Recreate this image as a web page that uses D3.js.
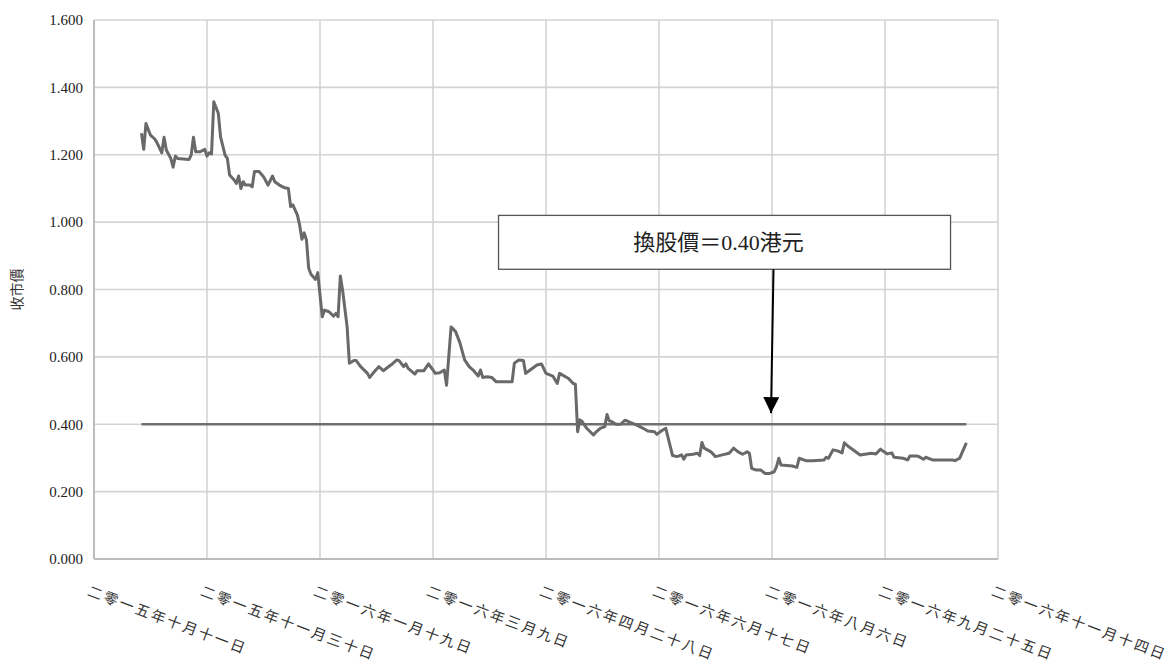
<!DOCTYPE html>
<html>
<head>
<meta charset="utf-8">
<script src="https://cdn.jsdelivr.net/npm/d3@7"></script>
<style>
  body { margin: 0; background: #fff; }
  svg { display: block; }
  .serif { font-family: "Liberation Serif", "Times New Roman", Tinos, "DejaVu Serif", serif; }
  .cjk { font-family: "Noto Sans CJK TC", "Noto Sans CJK SC", sans-serif; }
  .mixed { font-family: "Liberation Serif", "Times New Roman", Tinos, "Noto Sans CJK TC", serif; }
</style>
</head>
<body>
<svg width="1174" height="667"></svg>
<script>

// closing prices (HK$)
var dates = [
  "2015-11-01","2015-11-02","2015-11-03","2015-11-05","2015-11-07","2015-11-08","2015-11-10","2015-11-11","2015-11-12","2015-11-14",
  "2015-11-15","2015-11-16","2015-11-17","2015-11-22","2015-11-23","2015-11-24","2015-11-25","2015-11-27","2015-11-29","2015-11-30",
  "2015-12-01","2015-12-02","2015-12-03","2015-12-05","2015-12-06","2015-12-08","2015-12-09","2015-12-10","2015-12-12","2015-12-13",
  "2015-12-14","2015-12-15","2015-12-16","2015-12-17","2015-12-19","2015-12-20","2015-12-21","2015-12-23","2015-12-25","2015-12-27",
  "2015-12-29","2015-12-30","2016-01-01","2016-01-03","2016-01-05","2016-01-06","2016-01-07","2016-01-09","2016-01-10","2016-01-11",
  "2016-01-12","2016-01-13","2016-01-14","2016-01-15","2016-01-17","2016-01-18","2016-01-20","2016-01-21","2016-01-23","2016-01-25",
  "2016-01-26","2016-01-27","2016-01-28","2016-01-29","2016-01-31","2016-02-01","2016-02-03","2016-02-04","2016-02-06","2016-02-09",
  "2016-02-10","2016-02-12","2016-02-14","2016-02-16","2016-02-18","2016-02-20","2016-02-22","2016-02-23","2016-02-25","2016-02-26",
  "2016-02-27","2016-03-01","2016-03-02","2016-03-05","2016-03-07","2016-03-09","2016-03-10","2016-03-12","2016-03-14","2016-03-15",
  "2016-03-17","2016-03-19","2016-03-21","2016-03-22","2016-03-23","2016-03-25","2016-03-27","2016-03-29","2016-03-30","2016-03-31",
  "2016-04-02","2016-04-04","2016-04-06","2016-04-13","2016-04-14","2016-04-16","2016-04-18","2016-04-19","2016-04-21","2016-04-24",
  "2016-04-26","2016-04-28","2016-05-01","2016-05-03","2016-05-04","2016-05-08","2016-05-10","2016-05-11","2016-05-12","2016-05-13",
  "2016-05-14","2016-05-16","2016-05-19","2016-05-20","2016-05-22","2016-05-24","2016-05-25","2016-05-26","2016-05-27","2016-05-29",
  "2016-05-31","2016-06-02","2016-06-04","2016-06-07","2016-06-10","2016-06-12","2016-06-15","2016-06-16","2016-06-18","2016-06-20",
  "2016-06-23","2016-06-25","2016-06-27","2016-06-28","2016-06-29","2016-07-02","2016-07-04","2016-07-05","2016-07-06","2016-07-07",
  "2016-07-10","2016-07-12","2016-07-15","2016-07-18","2016-07-19","2016-07-20","2016-07-22","2016-07-24","2016-07-26","2016-07-27",
  "2016-07-28","2016-07-30","2016-08-01","2016-08-03","2016-08-05","2016-08-07","2016-08-08","2016-08-09","2016-08-10","2016-08-15",
  "2016-08-17","2016-08-18","2016-08-21","2016-08-24","2016-08-29","2016-08-30","2016-08-31","2016-09-02","2016-09-04","2016-09-06",
  "2016-09-07","2016-09-09","2016-09-14","2016-09-19","2016-09-21","2016-09-23","2016-09-24","2016-09-26","2016-09-28","2016-09-29",
  "2016-10-03","2016-10-05","2016-10-06","2016-10-09","2016-10-10","2016-10-12","2016-10-13","2016-10-16","2016-10-25","2016-10-26",
  "2016-10-28","2016-10-31"
];

var prices = [
  1.264,1.216,1.293,1.258,1.246,1.234,1.206,1.252,1.214,1.189,
  1.163,1.196,1.189,1.186,1.199,1.252,1.209,1.209,1.216,1.196,
  1.206,1.202,1.357,1.323,1.253,1.199,1.189,1.140,1.125,1.115,
  1.137,1.100,1.120,1.110,1.110,1.105,1.150,1.150,1.135,1.110,
  1.137,1.120,1.110,1.103,1.100,1.046,1.051,1.021,0.991,0.949,
  0.968,0.947,0.863,0.845,0.830,0.850,0.719,0.739,0.734,0.721,
  0.729,0.719,0.840,0.798,0.689,0.581,0.589,0.589,0.571,0.551,
  0.539,0.556,0.571,0.559,0.569,0.579,0.591,0.589,0.571,0.579,
  0.566,0.549,0.559,0.559,0.579,0.561,0.551,0.553,0.561,0.516,
  0.689,0.675,0.640,0.615,0.591,0.571,0.559,0.543,0.561,0.539,
  0.541,0.539,0.526,0.526,0.581,0.591,0.589,0.551,0.561,0.576,
  0.579,0.551,0.543,0.521,0.551,0.536,0.521,0.519,0.378,0.413,
  0.408,0.388,0.368,0.376,0.388,0.393,0.429,0.410,0.408,0.400,
  0.400,0.412,0.406,0.398,0.388,0.380,0.378,0.370,0.380,0.388,
  0.307,0.304,0.309,0.296,0.309,0.311,0.314,0.307,0.346,0.329,
  0.318,0.304,0.309,0.314,0.321,0.329,0.318,0.311,0.318,0.314,
  0.269,0.264,0.264,0.254,0.254,0.259,0.274,0.299,0.279,0.276,
  0.272,0.299,0.292,0.292,0.294,0.302,0.299,0.324,0.321,0.315,
  0.345,0.333,0.309,0.314,0.312,0.326,0.321,0.312,0.315,0.302,
  0.299,0.294,0.306,0.306,0.304,0.296,0.302,0.294,0.294,0.292,
  0.299,0.345
];

var xTickDates = ["2015-10-11","2015-11-30","2016-01-19","2016-03-09","2016-04-28",
                  "2016-06-17","2016-08-06","2016-09-25","2016-11-14"];
var xTickLabels = ["二零一五年十月十一日","二零一五年十一月三十日","二零一六年一月十九日",
                   "二零一六年三月九日","二零一六年四月二十八日","二零一六年六月十七日",
                   "二零一六年八月六日","二零一六年九月二十五日","二零一六年十一月十四日"];
var yTicks = [0, 0.2, 0.4, 0.6, 0.8, 1.0, 1.2, 1.4, 1.6];

var conversionPrice = 0.40;
var noteText = "換股價＝0.40港元";
var yTitle = "收市價";

var parse = d3.utcParse("%Y-%m-%d");

var svg = d3.select("svg");
var margin = {left: 94, right: 176, top: 20, bottom: 108};
var W = +svg.attr("width"), H = +svg.attr("height");

var x = d3.scaleUtc()
    .domain([parse(xTickDates[0]), parse(xTickDates[xTickDates.length - 1])])
    .range([margin.left, W - margin.right]);
var y = d3.scaleLinear().domain([0, 1.6]).range([H - margin.bottom, margin.top]);

// gridlines
svg.append("g")
  .selectAll("line")
  .data(yTicks)
  .enter().append("line")
    .attr("x1", x.range()[0]).attr("x2", x.range()[1])
    .attr("y1", function(d) { return y(d); })
    .attr("y2", function(d) { return y(d); })
    .attr("stroke", "#d4d4d4").attr("stroke-width", 1.6);

svg.append("g")
  .selectAll("line")
  .data(xTickDates)
  .enter().append("line")
    .attr("x1", function(d) { return x(parse(d)); })
    .attr("x2", function(d) { return x(parse(d)); })
    .attr("y1", y(1.6)).attr("y2", y(0))
    .attr("stroke", "#d4d4d4").attr("stroke-width", 1.6);

// axes lines
svg.append("line")
    .attr("x1", x.range()[0]).attr("x2", x.range()[0])
    .attr("y1", y(1.6)).attr("y2", y(0))
    .attr("stroke", "#bcbcbc").attr("stroke-width", 2);
svg.append("line")
    .attr("x1", x.range()[0]).attr("x2", x.range()[1])
    .attr("y1", y(0)).attr("y2", y(0))
    .attr("stroke", "#bcbcbc").attr("stroke-width", 2);

// y tick labels
var yAxis = svg.append("g")
    .attr("transform", "translate(" + (x.range()[0] - 8) + ",0)")
    .call(d3.axisLeft(y).tickValues(yTicks).tickSize(0).tickFormat(d3.format(".3f")))
    .attr("font-family", null).attr("font-size", null);
yAxis.select(".domain").remove();
yAxis.selectAll("text")
    .attr("class", "serif")
    .style("font-size", "15px").attr("fill", "#222");

// x tick labels, rotated
svg.append("g")
  .selectAll("text")
  .data(xTickDates)
  .enter().append("text")
    .attr("class", "cjk")
    .attr("transform", function(d) { return "translate(" + (x(parse(d)) - 3) + "," + (y(0) + 24) + ") rotate(20.5)"; })
    .attr("dy", "0.9em")
    .style("font-size", "14.5px")
    .attr("letter-spacing", 2.4)
    .attr("fill", "#333")
    .text(function(d, i) { return xTickLabels[i]; });

// y title
svg.append("text")
    .attr("class", "cjk")
    .attr("transform", "translate(" + 22 + "," + ((y(0) + y(1.6)) / 2) + ") rotate(-90)")
    .attr("text-anchor", "middle")
    .style("font-size", "14px")
    .attr("fill", "#333")
    .text(yTitle);

var first = parse(dates[0]), last = parse(dates[dates.length - 1]);

// conversion price line
svg.append("line")
    .attr("x1", x(first)).attr("x2", x(last))
    .attr("y1", y(conversionPrice)).attr("y2", y(conversionPrice))
    .attr("stroke", "#6f6f6f").attr("stroke-width", 2.6);

// price series
var line = d3.line()
    .x(function(d, i) { return x(parse(dates[i])); })
    .y(function(d) { return y(d); });

svg.append("path")
    .datum(prices)
    .attr("fill", "none")
    .attr("stroke", "#696969")
    .attr("stroke-width", 3)
    .attr("stroke-linejoin", "round")
    .attr("d", line);

// annotation box + arrow
var boxL = x(parse("2016-04-07")), boxR = x(parse("2016-10-24"));
var boxT = y(1.02), boxB = y(0.86);
svg.append("rect")
    .attr("x", boxL).attr("y", boxT)
    .attr("width", boxR - boxL).attr("height", boxB - boxT)
    .attr("fill", "#fff").attr("stroke", "#555").attr("stroke-width", 1.3);
svg.append("text")
    .attr("class", "mixed")
    .attr("x", (boxL + boxR) / 2 - 6).attr("y", (boxT + boxB) / 2 + 8)
    .attr("text-anchor", "middle")
    .style("font-size", "22px")
    .attr("fill", "#222")
    .text(noteText);

svg.append("defs").append("marker")
    .attr("id", "arrow")
    .attr("viewBox", "0 0 10 10")
    .attr("refX", 10).attr("refY", 5)
    .attr("markerWidth", 8).attr("markerHeight", 8)
    .attr("markerUnits", "strokeWidth")
    .attr("orient", "auto")
  .append("path")
    .attr("d", "M0,0 L10,5 L0,10 z")
    .attr("fill", "#000");

var arrowX = x(parse("2016-08-06"));
svg.append("line")
    .attr("x1", arrowX + 1.5).attr("y1", boxB)
    .attr("x2", arrowX - 1).attr("y2", y(0.433))
    .attr("stroke", "#000").attr("stroke-width", 2)
    .attr("marker-end", "url(#arrow)");

</script>
</body>
</html>
